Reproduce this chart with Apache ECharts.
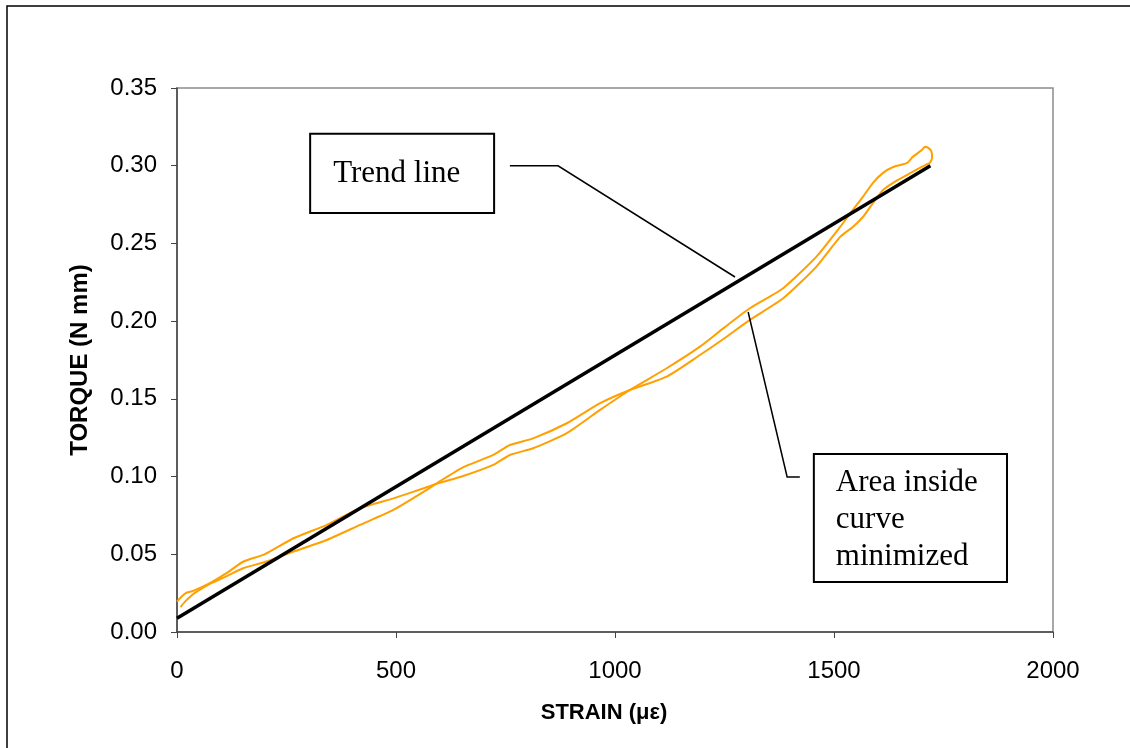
<!DOCTYPE html>
<html>
<head>
<meta charset="utf-8">
<script src="https://cdn.jsdelivr.net/npm/echarts@6/dist/echarts.min.js"></script>
<style>
html,body{margin:0;padding:0;background:#fff;}
#chart{width:1130px;height:748px;}
</style>
</head>
<body>
<div id="chart"></div>
<script>
// Hysteresis loop, branch going out to the tip (strain in µε, torque in N mm)
const loadStrain = [0, 8, 20, 37, 75, 114, 151, 200, 266, 342, 418, 494, 570, 600, 650, 722, 760, 813, 890, 966, 1034, 1118, 1194, 1250, 1308, 1384, 1460, 1514, 1543, 1566, 1589, 1612, 1635, 1667, 1680, 1701, 1708, 1715, 1722, 1724, 1719];
const loadTorque = [0.0195, 0.022, 0.025, 0.0265, 0.0315, 0.038, 0.0452, 0.050, 0.0603, 0.0689, 0.0796, 0.086, 0.0931, 0.096, 0.100, 0.1075, 0.1139, 0.1182, 0.1279, 0.1429, 0.1557, 0.1697, 0.1836, 0.196, 0.2083, 0.2212, 0.2415, 0.2606, 0.2716, 0.280, 0.289, 0.2954, 0.2992, 0.3018, 0.3057, 0.3102, 0.3122, 0.3115, 0.3095, 0.305, 0.3018];
// Branch returning from the tip
const unloadStrain = [1719, 1696, 1667, 1635, 1612, 1589, 1566, 1543, 1514, 1460, 1384, 1308, 1250, 1194, 1118, 1034, 966, 890, 813, 760, 722, 650, 600, 570, 494, 418, 342, 266, 200, 151, 114, 75, 40, 20, 8];
const unloadTorque = [0.3018, 0.2986, 0.2941, 0.289, 0.2844, 0.276, 0.267, 0.2606, 0.2542, 0.2351, 0.2147, 0.2008, 0.189, 0.1782, 0.1643, 0.1557, 0.1472, 0.1343, 0.1246, 0.1203, 0.1139, 0.1055, 0.097, 0.0914, 0.0785, 0.0689, 0.0592, 0.0517, 0.045, 0.041, 0.036, 0.031, 0.025, 0.020, 0.016];
// Trend line end points
const trendStrain = [0, 1720];
const trendTorque = [0.0088, 0.300];
// Axis ticks
const xTicks = [0, 500, 1000, 1500, 2000];
const yTicks = [0, 0.05, 0.10, 0.15, 0.20, 0.25, 0.30, 0.35];

const zip = (a, b) => a.map((v, i) => [v, b[i]]);

const chart = echarts.init(document.getElementById('chart'), null, {renderer: 'canvas'});
const orange = '#FFA000';
const sans = '"Liberation Sans", Arial, sans-serif';
const serif = '"Liberation Serif", "Times New Roman", serif';

chart.setOption({
  animation: false,
  backgroundColor: '#fff',
  grid: {left: 177, top: 88, right: 77, bottom: 116, show: true, borderColor: '#8c8c8c', borderWidth: 1.5},
  xAxis: {
    type: 'value', min: xTicks[0], max: xTicks[xTicks.length - 1], interval: 500,
    name: 'STRAIN (\u03bc\u03b5)', nameLocation: 'middle', nameGap: 70,
    nameTextStyle: {fontFamily: sans, fontWeight: 'bold', fontSize: 22, color: '#000', padding: [0, 22, 0, 0]},
    axisLine: {lineStyle: {color: '#444', width: 1.5}},
    axisTick: {show: true, inside: false, length: 6, lineStyle: {color: '#444'}},
    axisLabel: {fontFamily: sans, fontSize: 24, color: '#000', margin: 27, formatter: v => String(v)},
    splitLine: {show: false}
  },
  yAxis: {
    type: 'value', min: yTicks[0], max: yTicks[yTicks.length - 1], interval: 0.05,
    name: 'TORQUE (N mm)', nameLocation: 'middle', nameGap: 85,
    nameTextStyle: {fontFamily: sans, fontWeight: 'bold', fontSize: 24, color: '#000'},
    axisLine: {show: true, lineStyle: {color: '#444', width: 1.5}},
    axisTick: {show: true, inside: false, length: 6, lineStyle: {color: '#444'}},
    axisLabel: {fontFamily: sans, fontSize: 24, color: '#000', margin: 20, formatter: v => v.toFixed(2)},
    splitLine: {show: false}
  },
  series: [
    {type: 'line', data: zip(loadStrain, loadTorque), showSymbol: false, smooth: 0.2, lineStyle: {color: orange, width: 2}, z: 2},
    {type: 'line', data: zip(unloadStrain, unloadTorque), showSymbol: false, smooth: 0.2, lineStyle: {color: orange, width: 2}, z: 2},
    {type: 'line', data: zip(trendStrain, trendTorque), showSymbol: false, lineStyle: {color: '#000', width: 3.5}, z: 3}
  ]
});

// Callouts, anchored in data coordinates
const callouts = {
  trendBox: [[304, 0.3205], [724, 0.2696]],
  trendPointer: [[760, 0.2999], [870, 0.2999], [1274, 0.2284]],
  areaBox: [[1454, 0.1145], [1895, 0.0322]],
  areaPointer: [[1304, 0.2059], [1393, 0.0997], [1422, 0.0997]]
};
const px = p => chart.convertToPixel({gridIndex: 0}, p);
const tb = callouts.trendBox.map(px);
const ab = callouts.areaBox.map(px);
chart.setOption({
  graphic: [
    {type: 'rect', shape: {x: 7, y: 6, width: 1200, height: 800}, style: {fill: 'none', stroke: '#000', lineWidth: 1.5}, silent: true, z: 0},
    {type: 'polyline', shape: {points: callouts.trendPointer.map(px)}, style: {stroke: '#000', lineWidth: 1.5, fill: 'none'}, z: 10},
    {type: 'polyline', shape: {points: callouts.areaPointer.map(px)}, style: {stroke: '#000', lineWidth: 1.5, fill: 'none'}, z: 10},
    {type: 'rect', shape: {x: tb[0][0], y: tb[0][1], width: tb[1][0] - tb[0][0], height: tb[1][1] - tb[0][1]}, style: {fill: '#fff', stroke: '#000', lineWidth: 2}, z: 10},
    {type: 'text', x: tb[0][0] + 23, y: (tb[0][1] + tb[1][1]) / 2, style: {text: 'Trend line', font: '31px ' + serif, fill: '#000', textVerticalAlign: 'middle'}, z: 11},
    {type: 'rect', shape: {x: ab[0][0], y: ab[0][1], width: ab[1][0] - ab[0][0], height: ab[1][1] - ab[0][1]}, style: {fill: '#fff', stroke: '#000', lineWidth: 2}, z: 10},
    {type: 'text', x: ab[0][0] + 22, y: (ab[0][1] + ab[1][1]) / 2 + 2, style: {text: 'Area inside\ncurve\nminimized', font: '31px ' + serif, fill: '#000', textVerticalAlign: 'middle', lineHeight: 37}, z: 11}
  ]
});
</script>
</body>
</html>
